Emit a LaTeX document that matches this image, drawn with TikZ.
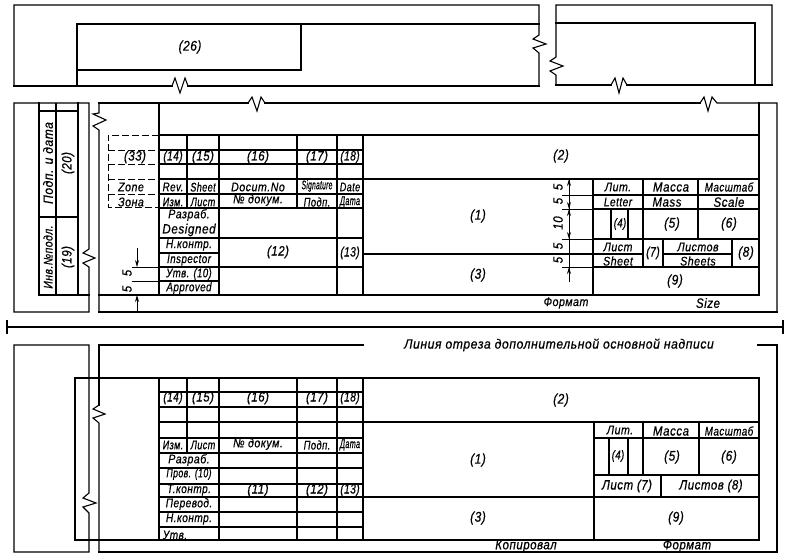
\documentclass[tikz,border=0pt]{standalone}
\usepackage{fontspec}
\usepackage{graphicx}
\setmainfont[LetterSpace=4,FakeStretch=0.85,FakeBold=0.6]{Liberation Sans}
\usetikzlibrary{arrows.meta}
\tikzset{
  thk/.style={line width=1.6pt,line cap=rect,line join=miter},
  thn/.style={line width=1.1pt,line join=miter},
  dimln/.style={line width=0.8pt},
  dsh/.style={line width=1pt,dash pattern=on 7pt off 3pt},
  lb/.style={inner sep=0pt,font=\itshape\fontsize{13.5}{14}\selectfont,text=black},
  lbs/.style={inner sep=0pt,font=\itshape\fontsize{12.5}{13}\selectfont,text=black},
  big/.style={inner sep=0pt,font=\itshape\fontsize{14}{15}\selectfont,text=black},
  rot/.style={rotate=90},
  tipd/.style={-{Stealth[length=7pt,width=4pt]}},
}
\begin{document}
\begin{tikzpicture}[x=1pt,y=-1pt]
\useasboundingbox (0,0) rectangle (788,558);
% ---------- top pieces
\draw[thn] (172,86) -- (14,86) -- (14,5) -- (539,5) -- (539,35) -- (533,39) -- (546,44) -- (533,48) -- (539,53) -- (539,86) -- (188,86) -- (185,78) -- (180,93) -- (175,78) -- cycle;
\draw[thk] (14,86) -- (172,86) (188,86) -- (539,86);
\draw[thn] (77,86) -- (77,24);
\draw[thk] (77,24) -- (539,24) (77,70) -- (301,70) -- (301,24) (77,24) -- (77,70);
\node[big] (t26) at (190,47) {(26)};
\draw[thn] (556,85) -- (556,75) -- (550,71) -- (563,66) -- (550,61) -- (556,57) -- (556,5) -- (772,5) -- (772,85) -- (627,85) -- (623,78) -- (619,93) -- (615,78) -- (611,85) -- cycle;
\draw[thk] (556,85) -- (611,85) (627,85) -- (772,85);
\draw[thk] (556,23) -- (755,23) -- (755,85);
% ---------- middle: left strip
\draw[thn] (89,249) -- (83,253) -- (95,258) -- (83,263) -- (89,267) -- (89,312) -- (14,312) -- (14,103) -- (89,103) -- cycle;
\draw[thk] (39,103) -- (39,295) -- (89,295) (78,103) -- (78,295) (39,111) -- (78,111) (39,217) -- (78,217);
\draw[thn] (56,103) -- (56,295);
\node[lb,rot] (a1) at (48,163) {\scalebox{1.05}[1]{Подп. и дата}};
\node[lb,rot] (a2) at (68,163) {(20)};
\node[lbs,rot] (a3) at (48,257) {\scalebox{.98}[1]{Инв.№подл.}};
\node[lb,rot] (a4) at (68,257) {(19)};
% ---------- middle: main frame
\draw[thn] (99,113) -- (93,114) -- (106,120) -- (93,126) -- (99,130) -- (99,312) -- (777,312) -- (777,103) -- (717,103) -- (712,97) -- (708,111) -- (704,97) -- (700,103) -- (265,103) -- (261,97) -- (257,111) -- (252,97) -- (248,103) -- (99,103) -- cycle;
\draw[thk] (99,312) -- (777,312) (99,103) -- (248,103) (265,103) -- (700,103);
\draw[thk] (159,103) -- (159,295) (759,103) -- (759,295) (159,135) -- (759,135) (99,295) -- (759,295) (159,179) -- (759,179);
\draw[thk] (187,135) -- (187,208) (219,135) -- (219,295) (297,135) -- (297,208) (337,135) -- (337,295) (363,135) -- (363,295);
\draw[thk] (159,150) -- (363,150) (159,164) -- (363,164) (159,208) -- (363,208) (159,238) -- (363,238) (159,267) -- (363,267);
\draw[thn] (159,194) -- (363,194) (159,253) -- (219,253) (159,281) -- (219,281);
% dashed
\draw[dsh] (159,135) -- (108,135) -- (108,207) -- (159,207);
\draw[dsh] (108,150) -- (159,150) (108,164) -- (159,164) (108,179) -- (159,179) (108,194) -- (159,194);
% right block
\draw[thk] (593,179) -- (593,295) (643,179) -- (643,267) (698,179) -- (698,239) (611,209) -- (611,239) (628,209) -- (628,239) (663,239) -- (663,267) (732,239) -- (732,267);
\draw[thk] (593,209) -- (759,209) (593,239) -- (759,239) (593,267) -- (759,267);
\draw[thn] (593,195) -- (759,195);
\draw[thk] (363,254) -- (643,254) (663,254) -- (732,254);
\draw[dimln] (562,195) -- (593,195) (562,209) -- (593,209) (562,239) -- (593,239) (562,254) -- (593,254) (562,267) -- (593,267);
% right dims
\draw[dimln] (569,179) -- (569,282);
\draw[dimln,tipd] (569,192) -- (569,179);
\draw[dimln,tipd] (569,196) -- (569,209);
\draw[dimln,tipd] (569,224) -- (569,209);
\draw[dimln,tipd] (569,224) -- (569,239);
\draw[dimln,tipd] (569,282) -- (569,267);
\node[lb,rot] (d1) at (558,187) {5};
\node[lb,rot] (d2) at (558,201) {5};
\node[lb,rot] (d3) at (558,223) {10};
\node[lb,rot] (d4) at (558,246) {5};
\node[lb,rot] (d5) at (558,260) {5};
% left dims
\draw[dimln,tipd] (137,248) -- (137,267);
\draw[dimln,tipd] (137,313) -- (137,295);
\draw[dimln] (132,267) -- (159,267) (132,281) -- (159,281);
\node[lb,rot] (d6) at (127,273) {5};
\node[lb,rot] (d7) at (127,289) {5};
% text middle
\node[lb] (m33) at (135,157) {(33)};
\node[lbs] (m1) at (131,187) {Zone};
\node[lbs] (m2) at (131,202) {Зона};
\node[lb] (m14) at (173,157) {\scalebox{.88}[1]{(14)}};
\node[lb] (m15) at (203,157) {\scalebox{1}[1]{(15)}};
\node[lb] (m16) at (258,157) {(16)};
\node[lb] (m17) at (317,157) {(17)};
\node[lb] (m18) at (350,157) {\scalebox{.88}[1]{(18)}};
\node[lbs] (m3) at (173,187) {\scalebox{.92}[1]{Rev.}};
\node[lbs] (m4) at (203,187) {\scalebox{.85}[1]{Sheet}};
\node[lbs] (m5) at (258,187) {\scalebox{1}[1]{Docum.No}};
\node[lbs] (m6) at (317,186) {\scalebox{.62}[1]{Signature}};
\node[lbs] (m7) at (350,187) {\scalebox{.85}[1]{Date}};
\node[lbs] (m8) at (173,202) {\scalebox{.85}[1]{Изм.}};
\node[lbs] (m9) at (203,202) {\scalebox{.85}[1]{Лист}};
\node[lbs] (m10) at (258,200) {\scalebox{1}[1]{№ докум.}};
\node[lbs] (m11) at (317,202) {\scalebox{.88}[1]{Подп.}};
\node[lbs] (m12) at (350,202) {\scalebox{.68}[1]{Дата}};
\node[lbs] (m13) at (189,215) {Разраб.};
\node[lb] (m19) at (189,230) {\scalebox{1.02}[1]{Designed}};
\node[lbs] (m20) at (189,245) {\scalebox{.95}[1]{Н.контр.}};
\node[lbs] (m21) at (189,260) {\scalebox{.92}[1]{Inspector}};
\node[lbs] (m22) at (189,274) {\scalebox{.9}[1]{Утв. (10)}};
\node[lbs] (m23) at (189,288) {\scalebox{.92}[1]{Approved}};
\node[lb] (m24) at (278,252) {(12)};
\node[lb] (m25) at (350,253) {\scalebox{.88}[1]{(13)}};
\node[big] (m26) at (561,156) {(2)};
\node[big] (m27) at (478,216) {(1)};
\node[big] (m28) at (478,275) {(3)};
\node[lbs] (m29) at (566,303) {Формат};
\node[lb] (m30) at (708,303) {Size};
\node[lbs] (m31) at (618,187) {Лит.};
\node[lb] (m32) at (671,187) {Масса};
\node[lbs] (m34) at (729,187) {\scalebox{.92}[1]{Масштаб}};
\node[lbs] (m35) at (618,202) {\scalebox{.95}[1]{Letter}};
\node[lb] (m36) at (667,202) {Mass};
\node[lb] (m37) at (729,202) {Scale};
\node[lbs] (m38) at (620,224) {\scalebox{.9}[1]{(4)}};
\node[big] (m39) at (672,224) {(5)};
\node[big] (m40) at (729,224) {(6)};
\node[lbs] (m41) at (618,247) {Лист};
\node[lbs] (m42) at (618,261) {Sheet};
\node[lb] (m43) at (653,253) {\scalebox{.9}[1]{(7)}};
\node[lbs] (m44) at (698,247) {Листов};
\node[lbs] (m45) at (698,261) {Sheets};
\node[big] (m46) at (746,253) {(8)};
\node[big] (m47) at (675,281) {(9)};
% ---------- separator
\draw[thk] (7,327) -- (783,327);
\draw[thn] (7,320) -- (7,334) (783,320) -- (783,334);
% ---------- bottom
\draw[thn] (99,405) -- (93,409) -- (105,414) -- (93,418) -- (99,423) -- (99,552);
\draw[thk] (99,345) -- (363,345) (758,345) -- (777,345) -- (777,552) -- (99,552) (99,345) -- (99,405);
\draw[thn] (89,493) -- (83,498) -- (96,503) -- (83,507) -- (89,513) -- (89,552) -- (14,552) -- (14,345) -- (89,345) -- cycle;
\draw[thk] (75,378) rectangle (759,540);
\draw[thk] (159,378) -- (159,540) (187,378) -- (187,453) (219,378) -- (219,540) (297,378) -- (297,540) (337,378) -- (337,540) (363,378) -- (363,540);
\draw[thk] (159,392) -- (363,392) (159,407) -- (363,407) (159,422) -- (759,422) (159,438) -- (363,438) (159,453) -- (363,453) (159,468) -- (363,468) (159,484) -- (363,484) (159,497) -- (759,497) (159,512) -- (363,512) (159,527) -- (363,527);
\draw[thk] (594,422) -- (594,540) (594,438) -- (759,438) (594,475) -- (759,475) (643,422) -- (643,475) (699,422) -- (699,475) (609,438) -- (609,475) (628,438) -- (628,475) (661,475) -- (661,497);
\node[lb] (b14) at (173,398) {\scalebox{.88}[1]{(14)}};
\node[lb] (b15) at (203,398) {\scalebox{1}[1]{(15)}};
\node[lb] (b16) at (258,398) {(16)};
\node[lb] (b17) at (317,398) {(17)};
\node[lb] (b18) at (350,398) {\scalebox{.88}[1]{(18)}};
\node[lbs] (b1) at (173,445) {\scalebox{.85}[1]{Изм.}};
\node[lbs] (b2) at (203,445) {\scalebox{.85}[1]{Лист}};
\node[lbs] (b3) at (258,444) {\scalebox{1}[1]{№ докум.}};
\node[lbs] (b4) at (317,445) {\scalebox{.88}[1]{Подп.}};
\node[lbs] (b5) at (350,445) {\scalebox{.68}[1]{Дата}};
\node[lbs] (b6) at (189,460) {Разраб.};
\node[lbs] (b7) at (189,474) {\scalebox{.82}[1]{Пров. (10)}};
\node[lbs] (b8) at (189,490) {\scalebox{.95}[1]{Т.контр.}};
\node[lbs] (b9) at (189,504) {\scalebox{.95}[1]{Перевод.}};
\node[lbs] (b10) at (189,519) {\scalebox{.95}[1]{Н.контр.}};
\node[lbs] (b11) at (175,535) {\scalebox{.95}[1]{Утв.}};
\node[lb] (b12) at (258,490) {(11)};
\node[lb] (b13) at (317,490) {(12)};
\node[lb] (b19) at (350,490) {\scalebox{.88}[1]{(13)}};
\node[big] (b20) at (561,400) {(2)};
\node[big] (b21) at (478,460) {(1)};
\node[big] (b22) at (478,518) {(3)};
\node[big] (b23) at (676,518) {(9)};
\node[lbs] (b24) at (620,430) {Лит.};
\node[lb] (b25) at (671,431) {Масса};
\node[lbs] (b26) at (729,431) {\scalebox{.92}[1]{Масштаб}};
\node[lbs] (b27) at (618,456) {\scalebox{.9}[1]{(4)}};
\node[big] (b28) at (672,457) {(5)};
\node[big] (b29) at (729,457) {(6)};
\node[lb] (b30) at (627,486) {Лист (7)};
\node[lb] (b31) at (711,486) {Листов (8)};
\node[lb] (b32) at (526,546) {Копировал};
\node[lb] (b33) at (687,546) {Формат};
\node[lb] (b34) at (559,345) {\scalebox{1.06}[1]{Линия отреза дополнительной основной надписи}};
\end{tikzpicture}
\end{document}
